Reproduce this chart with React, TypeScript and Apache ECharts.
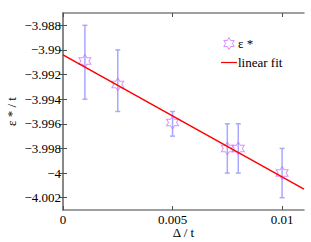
import React, { useEffect, useRef } from "react";
import * as echarts from "echarts";

const xValues = [0.001, 0.0025, 0.005, 0.0075, 0.008, 0.01];
const yValues = [-3.9909, -3.9928, -3.9959, -3.998, -3.998, -4.0];
const yLow = [-3.994, -3.995, -3.997, -4.0, -4.0, -4.002];
const yHigh = [-3.988, -3.99, -3.995, -3.996, -3.996, -3.998];
const fitX = [0, 0.011];
const fitY = [-3.9904, -4.0013];
const xTicks = [0, 0.005, 0.01];
const yTicks = [-4.002, -4.0, -3.998, -3.996, -3.994, -3.992, -3.99, -3.988];

const STAR =
  "path://M100 0 L128.9 50 L186.6 50 L157.7 100 L186.6 150 L128.9 150 L100 200 L71.1 150 L13.4 150 L42.3 100 L13.4 50 L71.1 50 Z";
const LINE_ICON = "path://M0 0 L40 0 L40 3 L0 3 Z";

const FONT = "'Liberation Serif', 'Times New Roman', serif";

const fmt = (v: number) => String(parseFloat(v.toFixed(4))).replace("-", "\u2212");

export default function App() {
  const ref = useRef<HTMLDivElement>(null);
  useEffect(() => {
    const chart = echarts.init(ref.current!, null, { renderer: "svg" });
    const axisLine = { show: true, lineStyle: { color: "#808080", width: 1.5 } };
    const tickStyle = { lineStyle: { color: "#505050", width: 1 } };
    chart.setOption({
      animation: false,
      textStyle: { fontFamily: FONT },
      grid: { left: 63, right: 7, top: 13, bottom: 32, containLabel: false, outerBoundsMode: "none" },
      legend: {
        orient: "vertical",
        left: 216,
        top: 32,
        itemWidth: 16,
        itemHeight: 12,
        itemGap: 6,
        textStyle: { fontFamily: FONT, fontSize: 13, color: "#000", padding: [0, 0, 0, -4] },
        data: [
          { name: "ε *", icon: STAR, itemStyle: { color: "#ffffff", borderColor: "#cc77ff", borderWidth: 1 } },
          { name: "linear fit", icon: LINE_ICON, itemStyle: { color: "#ff0000", borderWidth: 0 } },
        ],
      },
      xAxis: [
        {
          type: "value",
          min: 0,
          max: 0.011,
          name: "Δ / t",
          nameLocation: "middle",
          nameGap: 16,
          nameMoveOverlap: false,
          nameTextStyle: { fontFamily: FONT, fontSize: 13, color: "#000", lineHeight: 13 },
          axisLine,
          splitLine: { show: false },
          axisTick: { inside: true, length: 4, customValues: xTicks, ...tickStyle },
          axisLabel: { customValues: xTicks, formatter: fmt, fontFamily: FONT, fontSize: 13, color: "#000", margin: 3 },
        },
        {
          type: "value",
          min: 0,
          max: 0.011,
          position: "top",
          axisLine,
          splitLine: { show: false },
          axisTick: { inside: true, length: 4, customValues: xTicks, ...tickStyle },
          axisLabel: { show: false },
        },
      ],
      yAxis: [
        {
          type: "value",
          min: -4.003,
          max: -3.987,
          name: "ε * / t",
          nameLocation: "middle",
          nameGap: 45,
          nameMoveOverlap: false,
          nameRotate: 90,
          nameTextStyle: { fontFamily: FONT, fontSize: 13, color: "#000" },
          axisLine,
          splitLine: { show: false },
          axisTick: { inside: true, length: 4, customValues: yTicks, ...tickStyle },
          axisLabel: { customValues: yTicks, formatter: fmt, fontFamily: FONT, fontSize: 13, color: "#000", margin: 2 },
        },
        {
          type: "value",
          min: -4.003,
          max: -3.987,
          position: "right",
          axisLine,
          splitLine: { show: false },
          axisTick: { inside: true, length: 4, customValues: yTicks, ...tickStyle },
          axisLabel: { show: false },
        },
      ],
      series: [
        {
          type: "custom",
          name: "errors",
          data: xValues.map((x, i) => [x, yLow[i], yHigh[i]]),
          renderItem: (params: any, api: any) => {
            const x = api.value(0);
            const lo = api.coord([x, api.value(1)]);
            const hi = api.coord([x, api.value(2)]);
            const w = 2.5;
            const style = { stroke: "#a8a8ff", lineWidth: 1.5 };
            return {
              type: "group",
              children: [
                { type: "line", shape: { x1: lo[0], y1: lo[1], x2: hi[0], y2: hi[1] }, style },
                { type: "line", shape: { x1: lo[0] - w, y1: lo[1], x2: lo[0] + w, y2: lo[1] }, style },
                { type: "line", shape: { x1: hi[0] - w, y1: hi[1], x2: hi[0] + w, y2: hi[1] }, style },
              ],
            };
          },
          z: 1,
        },
        {
          type: "scatter",
          name: "ε *",
          data: xValues.map((x, i) => [x, yValues[i]]),
          symbol: STAR,
          symbolSize: [12, 13],
          itemStyle: { color: "rgba(255,255,255,0)", borderColor: "#cc77ff", borderWidth: 1 },
          z: 2,
        },
        {
          type: "line",
          name: "linear fit",
          data: fitX.map((x, i) => [x, fitY[i]]),
          symbol: "none",
          lineStyle: { color: "#ff0000", width: 1.5 },
          itemStyle: { color: "#ff0000" },
          z: 3,
        },
      ],
    });
    return () => chart.dispose();
  }, []);
  return <div ref={ref} style={{ width: 311, height: 242, position: "absolute", left: 0, top: 0 }} />;
}
